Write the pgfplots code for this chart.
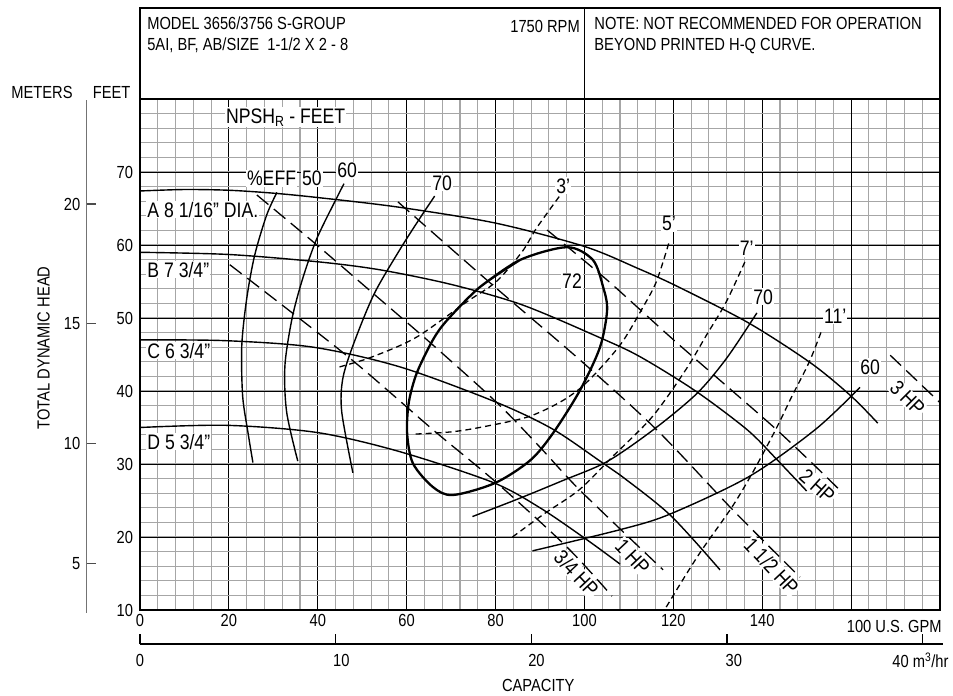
\documentclass[border=0pt]{standalone}
\usepackage{fontspec}
\setmainfont{Liberation Sans}[FakeStretch=0.84]
\usepackage{pgfplots}
\pgfplotsset{compat=1.18}
\newcommand\fs{\fontsize{17.5bp}{19bp}\selectfont}
\newcommand\fl{\fontsize{21bp}{23bp}\selectfont}
\tikzset{
  hd/.style={black, line width=1.4bp, smooth},
  ef/.style={black, line width=1.4bp, smooth},
  np/.style={black, line width=1.3bp, smooth, dash pattern=on 6bp off 4bp},
  hp/.style={black, line width=1.3bp, smooth, dash pattern=on 15bp off 7bp},
  lab/.style={font=\fl, fill=white, inner sep=1bp},
}
\begin{document}
\begin{tikzpicture}
\begin{axis}[
  width=800bp, height=511bp, scale only axis,
  xmin=0, xmax=180, ymin=10, ymax=80,
  xtick={0,20,...,140}, ytick={10,20,...,70},
  extra x ticks={160}, extra x tick labels={},
  extra x tick style={grid=major},
  minor xtick={0,4,...,180}, minor ytick={10,12,...,80},
  grid=both,
  major grid style={black, line width=0.9bp},
  minor grid style={black!35, line width=1.1bp},
  major tick length=0pt, minor tick length=0pt,
  axis line style={black, line width=1.6bp},
  tick label style={font=\fs},
  /pgf/number format/assume math mode=true,
  xticklabel style={yshift=-1bp},
  yticklabel style={xshift=-3.5bp},
  clip=false,
]
% head curves
\addplot[hd] coordinates {(0,67.4) (10,67.6) (20,67.5) (30,67.1) (40,66.5) (58,65.2) (80,63.0) (100,59.8) (112,56.8) (121,54.3) (137,49.3) (151,43.8) (160,39.3) (166,35.6)};
\addplot[hd] coordinates {(0,59.0) (20,58.7) (40,57.7) (54,56.6) (70,54.6) (86,51.8) (103.5,47.3) (112.5,44.7) (125,40.0) (136.6,34.7) (143,30.8) (150,26.3)};
\addplot[hd] coordinates {(0,47.0) (19,46.9) (39,46.0) (58.5,43.3) (80,38.5) (92.8,34.8) (103.5,30.4) (108,28.5) (119.3,23.0) (130.5,15.5)};
\addplot[hd] coordinates {(0,35.0) (19.5,35.3) (40,34.3) (58.4,31.7) (79.3,27.5) (90,24.0) (100.6,19.6) (108,16.3)};
% efficiency curves
\addplot[ef] coordinates {(30.8,67.2) (28.5,64.1) (25.8,58.6) (24.0,52.6) (22.9,46.2) (23.1,39.3) (24.3,34.3) (25.4,30.2)};
\addplot[ef] coordinates {(45.9,68.4) (44.3,66.5) (39.8,60.9) (36.6,55.4) (34.2,49.9) (32.6,43.4) (33.0,37.1) (35.5,30.4)};
\addplot[ef] coordinates {(66.3,66.7) (62.9,63.6) (58.4,59.3) (52.6,53.2) (47.9,46.2) (45.6,41.6) (45.4,37.1) (47.9,28.8)};
\addplot[ef] coordinates {(74.8,22.8) (85,25.2) (95,27.7) (105,30.3) (115.3,34.6) (125.2,39.6) (132,44.5) (138.8,50.7)};
\addplot[ef] coordinates {(88.3,18.1) (108,21.0) (119.1,23.1) (137.1,28.3) (152.1,34.8) (162,40.5)};
% 72 percent island
\addplot[black, line width=2.3bp, smooth] coordinates {(76.5,54.25) (85.5,57.95) (96.1,59.7) (101.9,57.95) (104.2,54.25) (105.1,51.1) (103.5,46.0) (99.0,40.1) (92.9,34.2) (87.8,30.5) (79.9,27.4) (70.4,25.75) (65.9,26.85) (61.4,30.1) (60.1,34.25) (60.5,38.5) (62.3,42.5) (65.9,47.0) (69.1,49.7) (76.5,54.25) (85.5,57.95)};
% NPSH curves
\addplot[np] coordinates {(44.9,43.3) (51,44.4) (58.4,46.2) (63.6,47.9) (73.5,52.2) (80.2,55) (86,59.1) (89.2,62.3) (94.4,66.7)};
\addplot[np] coordinates {(62.0,34.1) (70,34.4) (76.4,35) (87,36.4) (94,38.3) (98.9,40.3) (103.4,43) (108.5,46.7) (113,51.3) (116.2,55) (119.1,60.5)};
\addplot[np] coordinates {(83.8,20) (91,23.2) (98.9,26.5) (106.3,31) (115.3,36.5) (122.9,43) (127.4,47.6) (131.9,52.2) (136.4,58.1)};
\addplot[np] coordinates {(118.4,10.4) (122.5,14.5) (126.5,18.3) (133.3,24.2) (138,29) (143.1,34.8) (146.7,39.3) (150.6,44) (153.5,48.5)};
% HP lines
\addplot[hp] coordinates {(20.2,57.3) (46.6,44.8) (65.9,34.7) (80.3,27.4) (96.1,18.6) (106.2,11.9)};
\addplot[hp] coordinates {(26.3,66.85) (39.8,60.0) (52.4,53.4) (65.9,46.3) (80.3,38.4) (90.0,32.3) (99.0,26.4) (117.7,15.5)};
\addplot[hp] coordinates {(58.05,65.9) (78.8,54.8) (99.0,44.25) (116.3,34.66) (133.4,23.7) (148.5,14.5)};
\addplot[hp] coordinates {(91.6,62.05) (105.1,55.2) (120.8,46.6) (143.3,34.66) (157.5,26.4)};
\addplot[hp] coordinates {(168.8,44.9) (180,38.4)};
% thick left and bottom frame
\draw[black, line width=2.6bp] (axis cs:0,80) -- (axis cs:0,10) -- (axis cs:180,10);
% labels in plot
\node[lab, anchor=base west] at (axis cs:19.1,76.7) {NPSH\textsubscript{R} - FEET};
\node[lab] at (axis cs:29.6,69.1) {\%EFF};
\node[lab] at (axis cs:38.7,69.1) {50};
\node[lab] at (axis cs:46.6,70.2) {60};
\node[lab] at (axis cs:68.0,68.5) {70};
\node[lab] at (axis cs:97.2,55.0) {72};
\node[lab] at (axis cs:140.2,52.9) {70};
\node[lab] at (axis cs:164.3,43.3) {60};
\node[lab] at (axis cs:95.2,68.1) {3'};
\node[lab] at (axis cs:119.0,62.9) {5'};
\node[lab] at (axis cs:136.5,59.5) {7'};
\node[lab] at (axis cs:156.4,50.3) {11'};
\node[lab, anchor=base west] at (axis cs:1.4,63.8) {A 8 1/16" DIA.};
\node[lab, anchor=base west] at (axis cs:1.4,55.6) {B 7 3/4"};
\node[lab, anchor=base west] at (axis cs:1.4,44.5) {C 6 3/4"};
\node[lab, anchor=base west] at (axis cs:1.4,32.05) {D 5 3/4"};
\node[lab, rotate=-45] at (axis cs:172.7,39.0) {3 HP};
\node[lab, rotate=-42] at (axis cs:152.4,27.0) {2 HP};
\node[lab, rotate=-47] at (axis cs:142.1,16.0) {1 1/2 HP};
\node[lab, rotate=-47] at (axis cs:110.8,17.3) {1 HP};
\node[lab, rotate=-47] at (axis cs:98.2,15.0) {3/4 HP};
% header box
\draw[black, line width=1.6bp] (axis cs:0,80) -- (axis cs:0,92.47) -- (axis cs:180,92.47) -- (axis cs:180,80);
\draw[black, line width=1.6bp] (axis cs:100,80) -- (axis cs:100,92.47);
\node[font=\fs, anchor=base west, inner sep=0] at (axis cs:1.6,89.55) {MODEL 3656/3756 S-GROUP};
\node[font=\fs, anchor=base west, inner sep=0] at (axis cs:1.6,86.6) {5AI, BF, AB/SIZE\ \ 1-1/2 X 2 - 8};
\node[font=\fs, anchor=base east, inner sep=0] at (axis cs:99.0,89.1) {1750 RPM};
\node[font=\fs, anchor=base west, inner sep=0] at (axis cs:102.2,89.55) {NOTE: NOT RECOMMENDED FOR OPERATION};
\node[font=\fs, anchor=base west, inner sep=0] at (axis cs:102.2,86.7) {BEYOND PRINTED H-Q CURVE.};
% x end label
\node[font=\fs] at (axis cs:169.7,7.8) {100 U.S. GPM};
% meters axis
\draw[black!55, line width=1.4bp] (axis cs:-12,79.8) -- (axis cs:-12,9.6);
\draw[black!70, line width=1.2bp] (axis cs:-12,16.404) -- (axis cs:-9.8,16.404);
\draw[black!70, line width=1.2bp] (axis cs:-12,32.808) -- (axis cs:-9.8,32.808);
\draw[black!70, line width=1.2bp] (axis cs:-12,49.213) -- (axis cs:-9.8,49.213);
\draw[black!70, line width=1.2bp] (axis cs:-12,65.617) -- (axis cs:-9.8,65.617);
\node[font=\fs, anchor=east, inner sep=0] at (axis cs:-13.4,16.404) {5};
\node[font=\fs, anchor=east, inner sep=0] at (axis cs:-13.4,32.808) {10};
\node[font=\fs, anchor=east, inner sep=0] at (axis cs:-13.4,49.213) {15};
\node[font=\fs, anchor=east, inner sep=0] at (axis cs:-13.4,65.617) {20};
\node[font=\fs] at (axis cs:-22.05,80.9) {METERS};
\node[font=\fs] at (axis cs:-6.4,80.9) {FEET};
\node[font=\fs, rotate=90] at (axis cs:-21.7,45.9) {TOTAL DYNAMIC HEAD};
% capacity m3/hr axis
\draw[black, line width=1.5bp] (axis cs:0,5.34) -- (axis cs:180.7,5.34);
\draw[black, line width=1.2bp] (axis cs:0,5.34) -- (axis cs:0,6.71);
\draw[black, line width=1.2bp] (axis cs:44.03,5.34) -- (axis cs:44.03,6.71);
\draw[black, line width=1.2bp] (axis cs:88.06,5.34) -- (axis cs:88.06,6.71);
\draw[black, line width=1.2bp] (axis cs:132.09,5.34) -- (axis cs:132.09,6.71);
\draw[black, line width=1.2bp] (axis cs:176.12,5.34) -- (axis cs:176.12,6.71);
\node[font=\fs] at (axis cs:0,3.1) {0};
\node[font=\fs] at (axis cs:45.3,3.1) {10};
\node[font=\fs] at (axis cs:89.2,3.1) {20};
\node[font=\fs] at (axis cs:133.6,3.1) {30};
\node[font=\fs] at (axis cs:175.6,3.1) {40 m\textsuperscript{3}/hr};
\node[font=\fs] at (axis cs:89.6,-0.4) {CAPACITY};
\end{axis}
\pgfresetboundingbox
\path (current axis.south west) ++(-140bp,-86bp) rectangle ++(953bp,696bp);
\end{tikzpicture}
\end{document}
